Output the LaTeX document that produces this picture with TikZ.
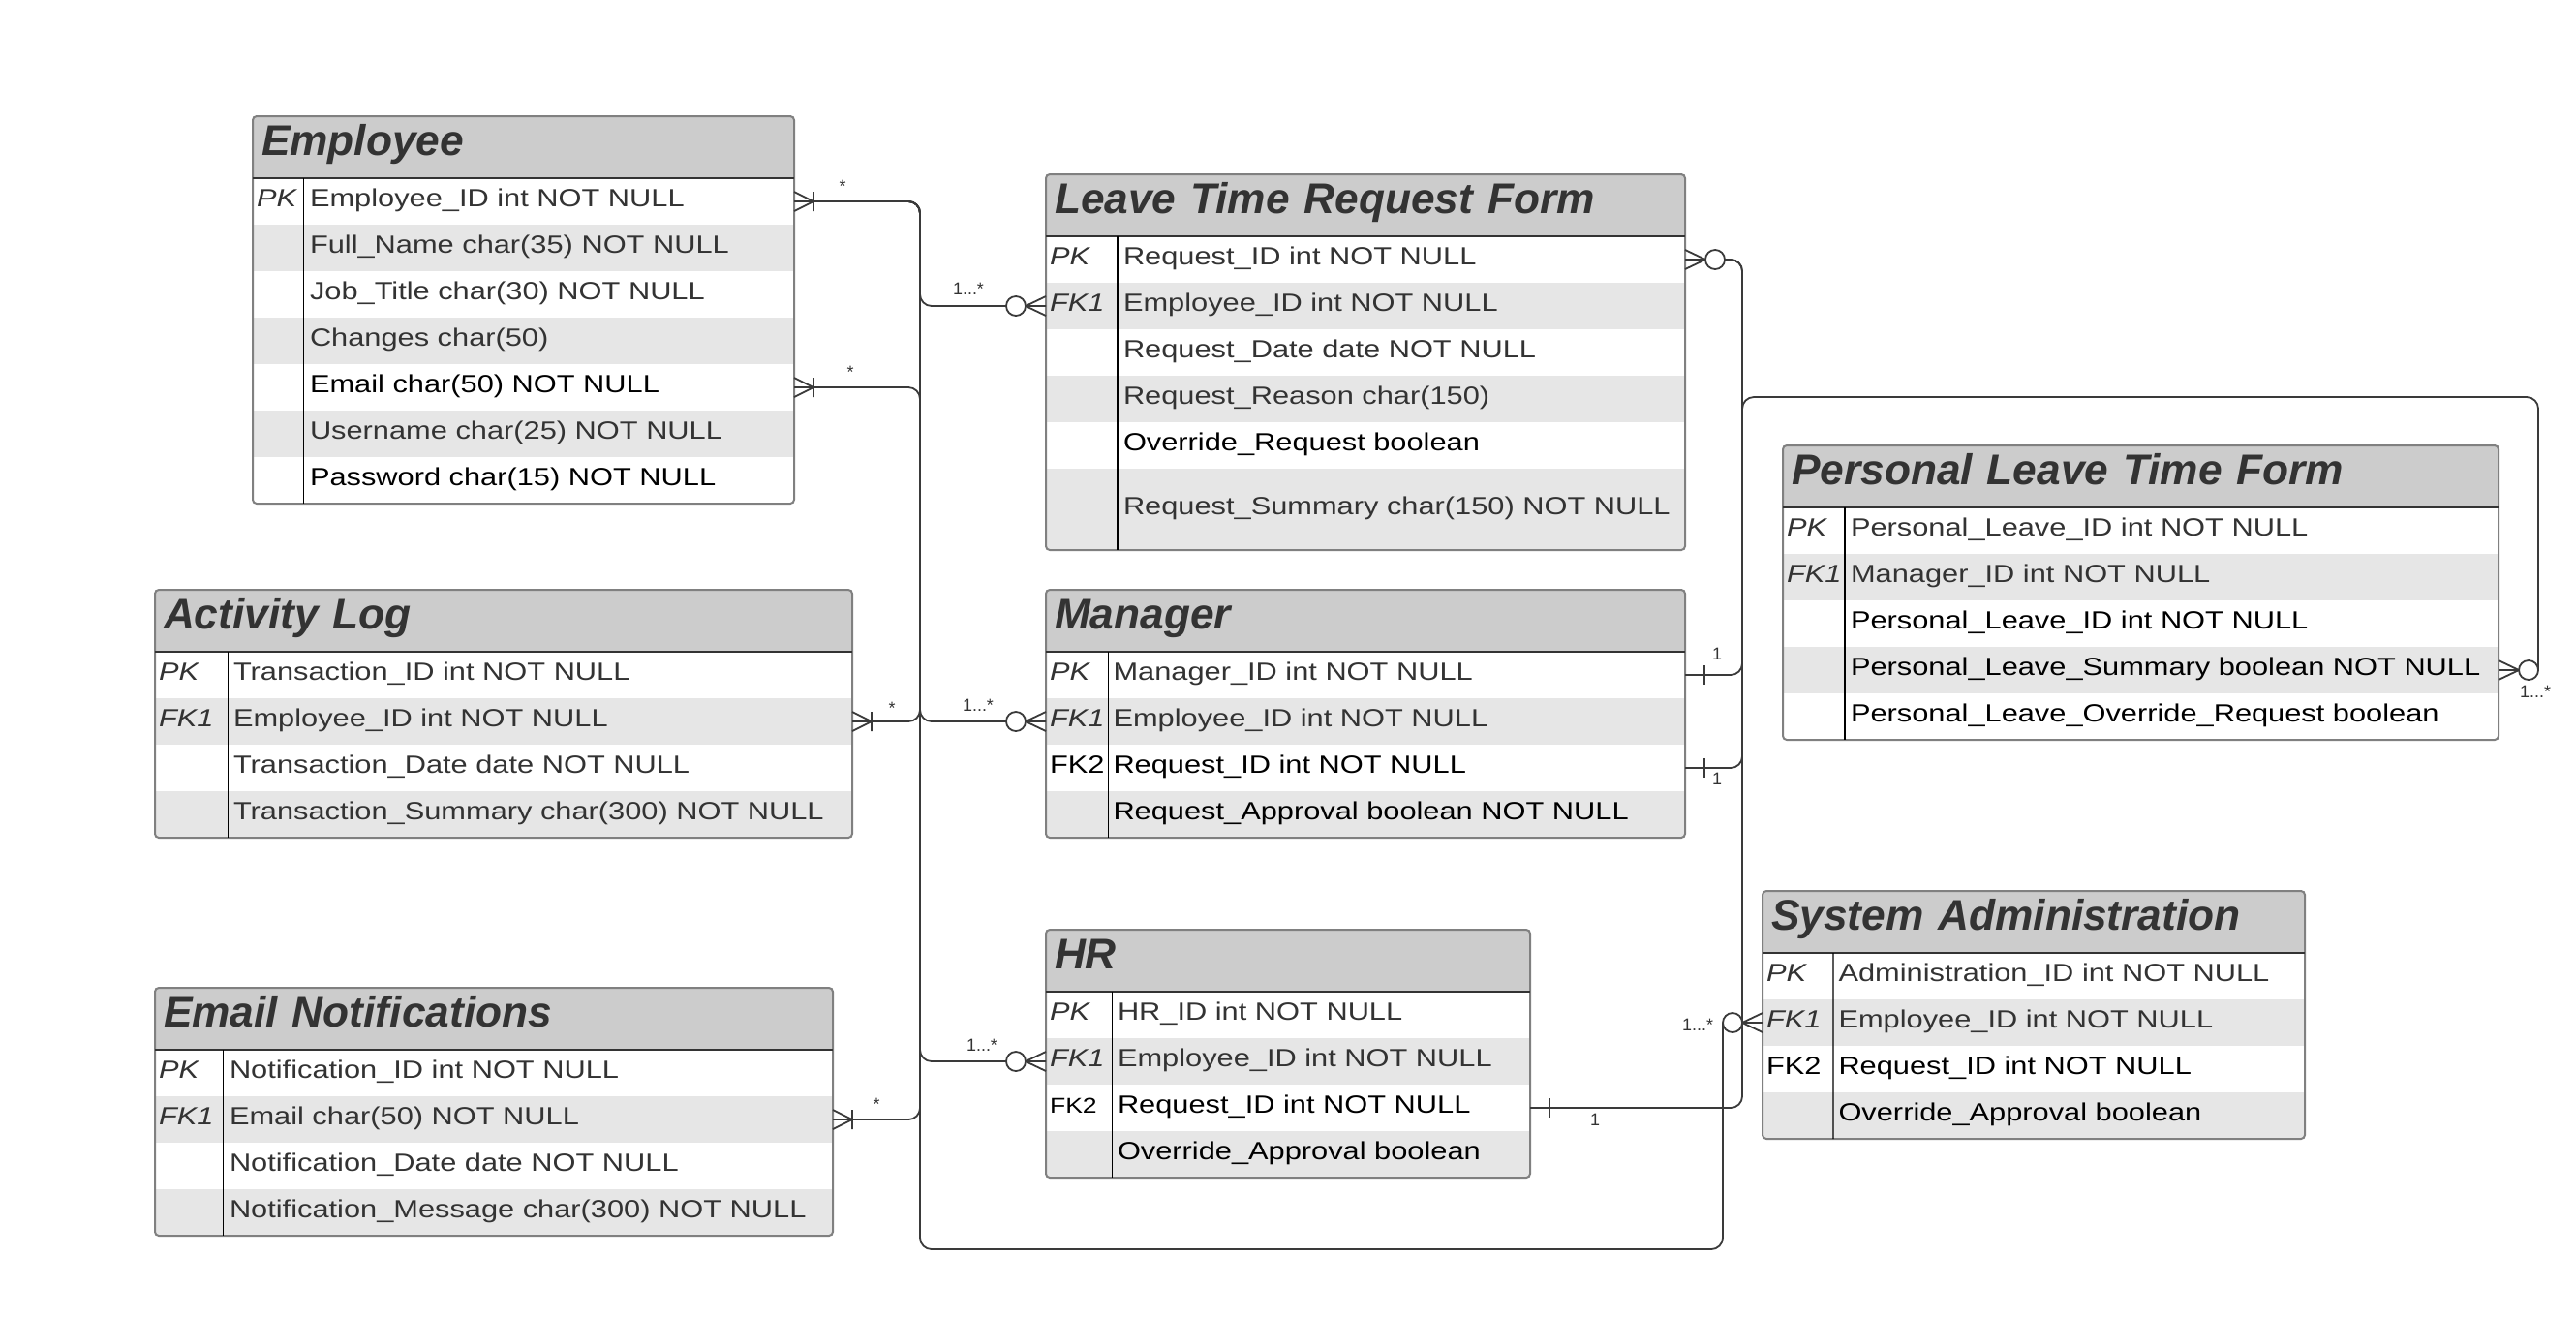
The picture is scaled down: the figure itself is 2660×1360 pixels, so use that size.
\documentclass[tikz,border=0pt]{standalone}
\usepackage{fontspec}
\setmainfont{Liberation Sans}
\newfontfamily\fieldfont{Liberation Sans}[FakeStretch=1.2]
\usetikzlibrary{positioning}

\definecolor{headfill}{HTML}{CCCCCC}
\definecolor{rowfill}{HTML}{E6E6E6}
\definecolor{txtgray}{HTML}{333333}
\definecolor{framegray}{HTML}{808080}
\definecolor{linegray}{HTML}{3A3A3A}

\begin{document}
\begin{tikzpicture}[x=0.1mm,y=-0.1mm]
            \tikzstyle{tabhead}=[anchor=north west, fill=headfill, inner xsep=0.9mm, inner ysep=0pt, outer sep=0pt, minimum height=6.4mm, text height=3.2mm, text depth=1.6mm, align=left, text=txtgray, font=\fontsize{12.6}{14}\selectfont\bfseries\itshape]
            \tikzstyle{fieldrow}=[inner xsep=0.4mm, inner ysep=0pt, outer sep=0pt, minimum height=4.8mm, text height=2.2mm, text depth=1.1mm, align=left, text=txtgray, font=\fieldfont\fontsize{7.3}{8}\selectfont]
            \tikzstyle{rowshade}=[fill=rowfill]
            \tikzstyle{tabframe}=[draw=framegray, line width=0.2mm, rounded corners=0.4mm]
            \tikzstyle{headline}=[draw=txtgray, line width=0.2mm]
            \tikzstyle{keyline}=[draw=black, line width=0.12mm]
            \tikzstyle{conn}=[draw=linegray, line width=0.18mm]
            \tikzstyle{link}=[conn, rounded corners=1.2mm]
            \tikzstyle{mult}=[inner sep=0pt, text=txtgray, font=\fontsize{5.1}{6}\selectfont]
            \tikzset{
                crowbar/.pic={\draw[sharp corners] (0mm,1mm) -- (2mm,0mm) -- (0mm,-1mm) (0mm,0mm) -- (2mm,0mm) (2mm,1mm) -- (2mm,-1mm);},
                crowring/.pic={\draw[sharp corners] (0mm,1mm) -- (2.1mm,0mm) -- (0mm,-1mm) (0mm,0mm) -- (2.1mm,0mm);
                               \draw[fill=white] (3.1mm,0mm) circle[radius=1mm];},
                onebar/.pic={\draw (0mm,0mm) -- (2mm,0mm) (2mm,1mm) -- (2mm,-1mm);}
            }
            \useasboundingbox[fill=white] (0,0) rectangle (2660,1360);

            % Employee
            \node[tabhead, text width=54.1mm] (emp) at (261,120) {Employee};
            \node[fieldrow, text width=55.1mm, below=0pt of emp] (emp1) {\makebox[5.5mm][l]{\textit{PK}}Employee\_ID int NOT NULL};
            \node[fieldrow, rowshade, text width=55.1mm, below=0pt of emp1] (emp2) {\hspace*{5.5mm}Full\_Name char(35) NOT NULL};
            \node[fieldrow, text width=55.1mm, below=0pt of emp2] (emp3) {\hspace*{5.5mm}Job\_Title char(30) NOT NULL};
            \node[fieldrow, rowshade, text width=55.1mm, below=0pt of emp3] (emp4) {\hspace*{5.5mm}Changes char(50)};
            \node[fieldrow, text=black, text width=55.1mm, below=0pt of emp4] (emp5) {\hspace*{5.5mm}Email char(50) NOT NULL};
            \node[fieldrow, rowshade, text width=55.1mm, below=0pt of emp5] (emp6) {\hspace*{5.5mm}Username char(25) NOT NULL};
            \node[fieldrow, text=black, text width=55.1mm, below=0pt of emp6] (emp7) {\hspace*{5.5mm}Password char(15) NOT NULL};
            \draw[tabframe] (emp.north west) rectangle (emp7.south east);
            \draw[headline] (emp.south west) -- (emp.south east);
            \draw[keyline] ([xshift=5.25mm]emp.south west) -- ([xshift=5.25mm]emp7.south west);

            % Leave Time Request Form
            \node[tabhead, text width=64.2mm] (lv) at (1080,180) {Leave Time Request Form};
            \node[fieldrow, text width=65.2mm, below=0pt of lv] (lv1) {\makebox[7.6mm][l]{\textit{PK}}Request\_ID int NOT NULL};
            \node[fieldrow, rowshade, text width=65.2mm, below=0pt of lv1] (lv2) {\makebox[7.6mm][l]{\textit{FK1}}Employee\_ID int NOT NULL};
            \node[fieldrow, text width=65.2mm, below=0pt of lv2] (lv3) {\hspace*{7.6mm}Request\_Date date NOT NULL};
            \node[fieldrow, rowshade, text width=65.2mm, below=0pt of lv3] (lv4) {\hspace*{7.6mm}Request\_Reason char(150)};
            \node[fieldrow, text=black, text width=65.2mm, below=0pt of lv4] (lv5) {\hspace*{7.6mm}Override\_Request boolean};
            \node[fieldrow, rowshade, minimum height=8.4mm, text width=65.2mm, below=0pt of lv5] (lv6) {\hspace*{7.6mm}Request\_Summary char(150) NOT NULL};
            \draw[tabframe] (lv.north west) rectangle (lv6.south east);
            \draw[headline] (lv.south west) -- (lv.south east);
            \draw[keyline] ([xshift=7.4mm]lv.south west) -- ([xshift=7.4mm]lv6.south west);

            % Activity Log
            \node[tabhead, text width=70.2mm] (al) at (160,609) {Activity Log};
            \node[fieldrow, text width=71.2mm, below=0pt of al] (al1) {\makebox[7.7mm][l]{\textit{PK}}Transaction\_ID int NOT NULL};
            \node[fieldrow, rowshade, text width=71.2mm, below=0pt of al1] (al2) {\makebox[7.7mm][l]{\textit{FK1}}Employee\_ID int NOT NULL};
            \node[fieldrow, text width=71.2mm, below=0pt of al2] (al3) {\hspace*{7.7mm}Transaction\_Date date NOT NULL};
            \node[fieldrow, rowshade, text width=71.2mm, below=0pt of al3] (al4) {\hspace*{7.7mm}Transaction\_Summary char(300) NOT NULL};
            \draw[tabframe] (al.north west) rectangle (al4.south east);
            \draw[headline] (al.south west) -- (al.south east);
            \draw[keyline] ([xshift=7.55mm]al.south west) -- ([xshift=7.55mm]al4.south west);

            % Email Notifications
            \node[tabhead, text width=68.2mm] (en) at (160,1020) {Email Notifications};
            \node[fieldrow, text width=69.2mm, below=0pt of en] (en1) {\makebox[7.3mm][l]{\textit{PK}}Notification\_ID int NOT NULL};
            \node[fieldrow, rowshade, text width=69.2mm, below=0pt of en1] (en2) {\makebox[7.3mm][l]{\textit{FK1}}Email char(50) NOT NULL};
            \node[fieldrow, text width=69.2mm, below=0pt of en2] (en3) {\hspace*{7.3mm}Notification\_Date date NOT NULL};
            \node[fieldrow, rowshade, text width=69.2mm, below=0pt of en3] (en4) {\hspace*{7.3mm}Notification\_Message char(300) NOT NULL};
            \draw[tabframe] (en.north west) rectangle (en4.south east);
            \draw[headline] (en.south west) -- (en.south east);
            \draw[keyline] ([xshift=7.05mm]en.south west) -- ([xshift=7.05mm]en4.south west);

            % Manager
            \node[tabhead, text width=64.2mm] (mg) at (1080,609) {Manager};
            \node[fieldrow, text width=65.2mm, below=0pt of mg] (mg1) {\makebox[6.55mm][l]{\textit{PK}}Manager\_ID int NOT NULL};
            \node[fieldrow, rowshade, text width=65.2mm, below=0pt of mg1] (mg2) {\makebox[6.55mm][l]{\textit{FK1}}Employee\_ID int NOT NULL};
            \node[fieldrow, text=black, text width=65.2mm, below=0pt of mg2] (mg3) {\makebox[6.55mm][l]{FK2}Request\_ID int NOT NULL};
            \node[fieldrow, rowshade, text=black, text width=65.2mm, below=0pt of mg3] (mg4) {\hspace*{6.55mm}Request\_Approval boolean NOT NULL};
            \draw[tabframe] (mg.north west) rectangle (mg4.south east);
            \draw[headline] (mg.south west) -- (mg.south east);
            \draw[keyline] ([xshift=6.45mm]mg.south west) -- ([xshift=6.45mm]mg4.south west);

            % HR
            \node[tabhead, text width=48.2mm] (hr) at (1080,960) {HR};
            \node[fieldrow, text width=49.2mm, below=0pt of hr] (hr1) {\makebox[7mm][l]{\textit{PK}}HR\_ID int NOT NULL};
            \node[fieldrow, rowshade, text width=49.2mm, below=0pt of hr1] (hr2) {\makebox[7mm][l]{\textit{FK1}}Employee\_ID int NOT NULL};
            \node[fieldrow, text=black, text width=49.2mm, below=0pt of hr2] (hr3) {\makebox[7mm][l]{\fontsize{6.3}{7}\selectfont FK2}Request\_ID int NOT NULL};
            \node[fieldrow, rowshade, text=black, text width=49.2mm, below=0pt of hr3] (hr4) {\hspace*{7mm}Override\_Approval boolean};
            \draw[tabframe] (hr.north west) rectangle (hr4.south east);
            \draw[headline] (hr.south west) -- (hr.south east);
            \draw[keyline] ([xshift=6.85mm]hr.south west) -- ([xshift=6.85mm]hr4.south west);

            % System Administration
            \node[tabhead, text width=54.2mm] (sa) at (1820,920) {System Administration};
            \node[fieldrow, text width=55.2mm, below=0pt of sa] (sa1) {\makebox[7.45mm][l]{\textit{PK}}Administration\_ID int NOT NULL};
            \node[fieldrow, rowshade, text width=55.2mm, below=0pt of sa1] (sa2) {\makebox[7.45mm][l]{\textit{FK1}}Employee\_ID int NOT NULL};
            \node[fieldrow, text=black, text width=55.2mm, below=0pt of sa2] (sa3) {\makebox[7.45mm][l]{FK2}Request\_ID int NOT NULL};
            \node[fieldrow, rowshade, text=black, text width=55.2mm, below=0pt of sa3] (sa4) {\hspace*{7.45mm}Override\_Approval boolean};
            \draw[tabframe] (sa.north west) rectangle (sa4.south east);
            \draw[headline] (sa.south west) -- (sa.south east);
            \draw[keyline] ([xshift=7.3mm]sa.south west) -- ([xshift=7.3mm]sa4.south west);

            % Personal Leave Time Form
            \node[tabhead, text width=72.1mm] (pl) at (1841,460) {Personal Leave Time Form};
            \node[fieldrow, text width=73.1mm, below=0pt of pl] (pl1) {\makebox[6.6mm][l]{\textit{PK}}Personal\_Leave\_ID int NOT NULL};
            \node[fieldrow, rowshade, text width=73.1mm, below=0pt of pl1] (pl2) {\makebox[6.6mm][l]{\textit{FK1}}Manager\_ID int NOT NULL};
            \node[fieldrow, text=black, text width=73.1mm, below=0pt of pl2] (pl3) {\hspace*{6.6mm}Personal\_Leave\_ID int NOT NULL};
            \node[fieldrow, rowshade, text=black, text width=73.1mm, below=0pt of pl3] (pl4) {\hspace*{6.6mm}Personal\_Leave\_Summary boolean NOT NULL};
            \node[fieldrow, text=black, text width=73.1mm, below=0pt of pl4] (pl5) {\hspace*{6.6mm}Personal\_Leave\_Override\_Request boolean};
            \draw[tabframe] (pl.north west) rectangle (pl5.south east);
            \draw[headline] (pl.south west) -- (pl.south east);
            \draw[keyline] ([xshift=6.4mm]pl.south west) -- ([xshift=6.4mm]pl5.south west);

            % relationships
            \coordinate (tl) at (950,0);
            \coordinate (tr) at (1799,0);
            \coordinate (ltop) at (1799,410);
            \coordinate (lbot) at (950,1290);
            \draw[link] (emp1.east) -- (emp1.east -| tl) |- ([xshift=-4.1mm]lv2.west);
            \draw[link] (emp1.east) -- (emp1.east -| tl) |- ([xshift=-4.1mm]mg2.west);
            \draw[link] (emp1.east) -- (emp1.east -| tl) |- ([xshift=-4.1mm]hr2.west);
            \draw[link] (al2.east) -- (al2.east -| tl) |- (emp1.east);
            \draw[link] (emp5.east) -- (emp5.east -| tl) |- (en2.east);
            \draw[link] ([xshift=-4.1mm]sa2.west) |- (lbot) |- (emp1.east);
            \draw[link] ([xshift=4.1mm]lv1.east) -- (lv1.east -| tr) |- (mg3.east);
            \draw[link] ([xshift=4.1mm]lv1.east) -- (lv1.east -| tr) |- (hr3.east);
            \draw[link] (mg1.east) -- (mg1.east -| ltop) -- (ltop) -| ([xshift=4.1mm]pl4.east);

            \pic[conn] at (emp1.east) {crowbar};
            \pic[conn] at (emp5.east) {crowbar};
            \pic[conn] at (al2.east) {crowbar};
            \pic[conn] at (en2.east) {crowbar};
            \pic[conn, rotate=180] at (lv2.west) {crowring};
            \pic[conn, rotate=180] at (mg2.west) {crowring};
            \pic[conn, rotate=180] at (hr2.west) {crowring};
            \pic[conn, rotate=180] at (sa2.west) {crowring};
            \pic[conn] at (lv1.east) {crowring};
            \pic[conn] at (pl4.east) {crowring};
            \pic[conn] at (mg1.east) {onebar};
            \pic[conn] at (mg3.east) {onebar};
            \pic[conn] at (hr3.east) {onebar};

            % multiplicities
            \node[mult] (m1) at ([shift={(50,-16)}]emp1.east) {*};
            \node[mult] (m2) at ([shift={(58,-16)}]emp5.east) {*};
            \node[mult] (m3) at ([shift={(-80,-18)}]lv2.west) {1...*};
            \node[mult] (m4) at ([shift={(41,-14)}]al2.east) {*};
            \node[mult] (m5) at ([shift={(-70,-17)}]mg2.west) {1...*};
            \node[mult] (m6) at ([shift={(45,-16)}]en2.east) {*};
            \node[mult] (m7) at ([shift={(-66,-17)}]hr2.west) {1...*};
            \node[mult] (m8) at ([shift={(33,-22)}]mg1.east) {1};
            \node[mult] (m9) at ([shift={(33,11)}]mg3.east) {1};
            \node[mult] (m10) at ([shift={(67,12)}]hr3.east) {1};
            \node[mult] (m11) at ([shift={(-67,2)}]sa2.west) {1...*};
            \node[mult] (m12) at ([shift={(38,22)}]pl4.east) {1...*};
        \end{tikzpicture}
\end{document}
